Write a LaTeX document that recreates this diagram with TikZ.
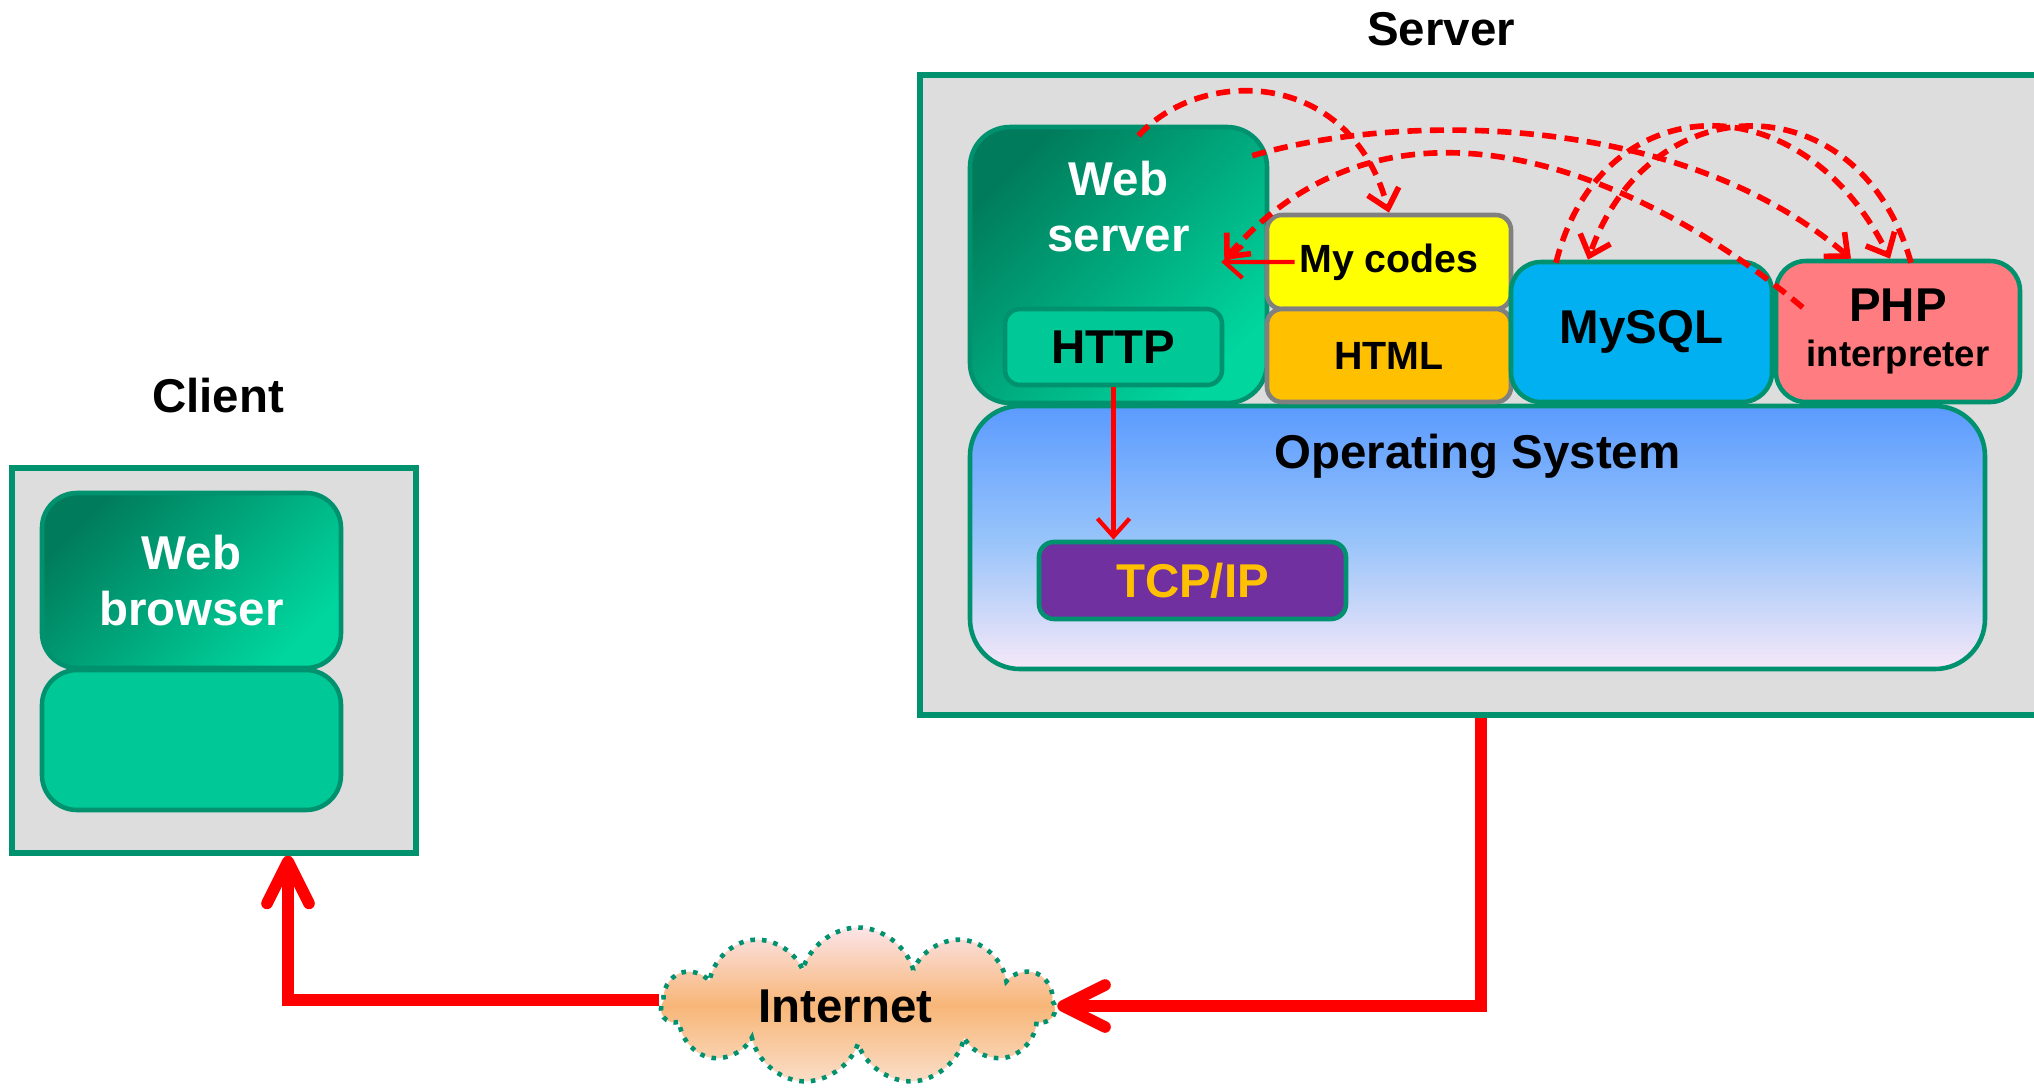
\documentclass[tikz,border=0pt]{standalone}
\usepackage{fontspec}
\setmainfont{Liberation Sans}
\usepackage{tikz}
\usetikzlibrary{positioning,arrows.meta,shapes.symbols}

\definecolor{frame}{RGB}{0,146,110}
\definecolor{panelgray}{RGB}{221,221,221}
\definecolor{wsdark}{RGB}{0,124,92}
\definecolor{wslight}{RGB}{0,214,158}
\definecolor{httpgreen}{RGB}{0,200,150}
\definecolor{codegray}{RGB}{128,128,128}
\definecolor{codeyellow}{RGB}{255,255,0}
\definecolor{htmlorange}{RGB}{255,192,0}
\definecolor{mysqlblue}{RGB}{0,176,240}
\definecolor{phppink}{RGB}{255,124,128}
\definecolor{osTop}{RGB}{91,155,255}
\definecolor{osMid}{RGB}{150,195,250}
\definecolor{osBottom}{RGB}{246,232,248}
\definecolor{tcppurple}{RGB}{112,48,160}
\definecolor{cloudTop}{RGB}{251,228,232}
\definecolor{cloudMid}{RGB}{248,182,120}
\definecolor{cloudBottom}{RGB}{250,222,200}
\definecolor{arrowred}{RGB}{255,0,0}

\newcommand{\bigtxt}{\fontsize{13.5}{16}\selectfont\bfseries}
\newcommand{\midtxt}{\fontsize{11.2}{13}\selectfont\bfseries}
\newcommand{\smalltxt}{\fontsize{10.4}{12}\selectfont\bfseries}

\tikzset{
    panel/.style={draw=frame, line width=1.5pt, fill=panelgray, inner sep=0pt},
    block/.style={draw=frame, line width=1.3pt, rounded corners=#1, inner sep=0pt},
    block/.default=3mm,
    codebox/.style={draw=codegray, line width=1.3pt, rounded corners=1.5mm, inner sep=0pt,
        minimum width=2.44cm, font=\midtxt},
    heading/.style={font=\bigtxt},
    bigarrow/.style={draw=arrowred, line width=3.3pt, -{Straight Barb[length=4.2mm,width=4.2mm,round]}},
    thinarrow/.style={draw=arrowred, line width=1.2pt, -{Straight Barb[length=1.8mm,width=3.2mm]}},
    callarrow/.style={thinarrow, line width=1.6pt, dash pattern=on 4pt off 2.4pt},
}

\begin{document}
\begin{tikzpicture}[x=1cm,y=1cm]
    \useasboundingbox (0,0) rectangle (20.34,10.87);

    % Server side
    \node[panel, minimum width=11.3cm, minimum height=6.4cm] (server) at (14.85,6.92) {};
    \node[heading] (servertitle) at (14.41,10.58) {Server};

    \node[block=5mm, minimum width=10.15cm, minimum height=2.63cm,
        top color=osTop, bottom color=osBottom, middle color=osMid] (os) at (14.775,5.495) {};
    \node[heading, below=0.18cm of os.north] (ostext) {Operating System};
    \node[block=1.5mm, fill=tcppurple, minimum width=3.07cm, minimum height=0.77cm,
        text=htmlorange, font=\bigtxt] (tcp) at (11.925,5.065) {TCP/IP};

    \node[block=4mm, minimum width=2.97cm, minimum height=2.76cm,
        top color=wsdark, bottom color=wslight, shading angle=45] (websrv) at (11.185,8.22) {};
    \node[below=0.24cm of websrv.north, align=center, text=white, font=\bigtxt] (websrvtext) {Web\\server};
    \node[block=1.5mm, fill=httpgreen, minimum width=2.17cm, minimum height=0.76cm,
        font=\bigtxt] (http) at (11.135,7.40) {HTTP};

    \node[codebox, fill=codeyellow, minimum height=0.94cm] (mycodes) at (13.89,8.25) {My codes};
    \node[codebox, fill=htmlorange, minimum height=0.93cm] (html) at (13.89,7.315) {HTML};
    \node[block, fill=mysqlblue, minimum width=2.61cm, minimum height=1.40cm,
        font=\bigtxt] (mysql) at (16.415,7.55) {MySQL};
    \node[block, fill=phppink, minimum width=2.44cm, minimum height=1.41cm, align=center,
        font=\bigtxt] (php) at (18.98,7.555) {PHP\\[-3pt]{\smalltxt interpreter}};

    % Client side
    \node[panel, minimum width=4.04cm, minimum height=3.85cm] (clientbox) at (2.14,4.265) {};
    \node[heading] (clienttitle) at (2.18,6.91) {Client};
    \node[block=3.5mm, minimum width=2.99cm, minimum height=1.75cm, align=center,
        top color=wsdark, bottom color=wslight, shading angle=45,
        text=white, font=\bigtxt] (browser) at (1.915,5.065) {Web\\browser};
    \node[block=3.5mm, fill=httpgreen, minimum width=2.99cm, minimum height=1.40cm] (browserlow) at (1.915,3.47) {};

    % Internet
    \node[cloud, cloud puffs=11, cloud ignores aspect, draw=frame, line width=1.3pt, dotted,
        top color=cloudTop, bottom color=cloudBottom, middle color=cloudMid,
        minimum width=3.93cm, minimum height=1.57cm, inner sep=0pt, font=\bigtxt] (inet) at (8.58,0.81) {Internet\hspace*{0.25cm}};

    % Arrows
    \draw[bigarrow] ([xshift=-0.4mm]server.south) |- (inet.east);
    \draw[bigarrow] ([yshift=0.6mm]inet.west) -| ([xshift=7.4mm]clientbox.south);
    \draw[thinarrow] (http.south) -- (http.south |- tcp.north);
    \draw[thinarrow] ([xshift=3mm]mycodes.west) -- ([xshift=-4.8mm,yshift=0.3mm]websrv.east);

    \draw[callarrow] ([shift={(0.2,-0.11)}]websrv.north) .. controls (12.0,10.2) and (13.5,10.2) .. (mycodes.north);
    \draw[callarrow] ([shift={(-0.17,-0.31)}]websrv.north east) .. controls (14.0,9.75) and (16.8,9.75) .. ([xshift=-4.7mm]php.north);
    \draw[callarrow] ([shift={(0.29,0.24)}]php.west) .. controls (16.6,9.0) and (14.0,10.3) .. ([shift={(-0.45,0.05)}]websrv.east);
    \draw[callarrow] ([shift={(-0.855,-0.03)}]mysql.north) .. controls (16.0,10.0) and (18.0,10.1) .. ([xshift=-0.8mm]php.north);
    \draw[callarrow] ([shift={(0.13,-0.04)}]php.north) .. controls (18.6,10.05) and (16.5,10.05) .. ([xshift=-5.35mm]mysql.north);
\end{tikzpicture}
\end{document}
